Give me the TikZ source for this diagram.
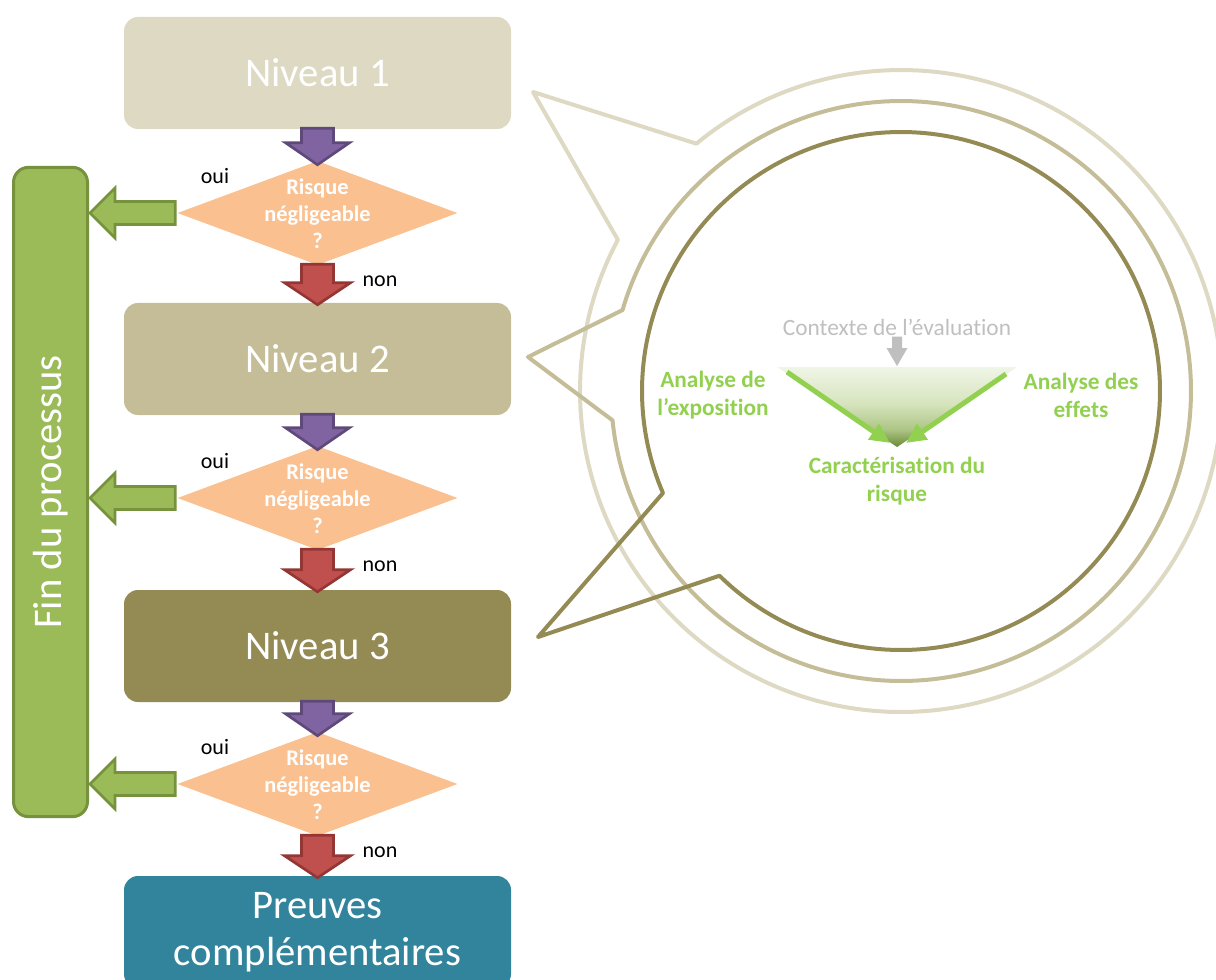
\documentclass[tikz,border=0pt]{standalone}
\usepackage{fontspec}
\setmainfont{Carlito}[Ligatures={NoCommon}]
\usetikzlibrary{shapes.geometric,arrows.meta,calc}

\definecolor{lvlone}{HTML}{DDD9C3}
\definecolor{lvltwo}{HTML}{C4BD97}
\definecolor{lvlthree}{HTML}{948A54}
\definecolor{proof}{HTML}{31849B}
\definecolor{peach}{HTML}{FAC090}
\definecolor{purplefill}{HTML}{8064A2}
\definecolor{purpleline}{HTML}{5F497A}
\definecolor{redfill}{HTML}{C0504D}
\definecolor{redline}{HTML}{943634}
\definecolor{leaf}{HTML}{9BBB59}
\definecolor{leafline}{HTML}{76923C}
\definecolor{lime}{HTML}{92D050}
\definecolor{greytext}{HTML}{BFBFBF}
\definecolor{tritop}{HTML}{F0F5E7}
\definecolor{trimid}{HTML}{D6E4BD}
\definecolor{trilow}{HTML}{ADC585}
\definecolor{tribot}{HTML}{6A8A36}

% funnel gradient: dark at the tip, fading to almost white at the rim
\pgfdeclareverticalshading{funnel}{100bp}{color(0bp)=(tribot); color(25bp)=(tribot);
  color(36bp)=(trilow); color(52bp)=(trimid); color(75bp)=(tritop); color(100bp)=(tritop)}

% downward block arrow: style, from, to, shaft half-width, head half-width, head length
\newcommand\blockdown[6]{%
  \draw[#1] ($(#2)+(-#4,0)$) -- ($(#2)+(#4,0)$) -- ($(#3)+(#4,-#6)$) -- ($(#3)+(#5,-#6)$)
    -- (#3) -- ($(#3)+(-#5,-#6)$) -- ($(#3)+(-#4,-#6)$) -- cycle;}
% leftward block arrow: style, tail, tip, shaft half-height, head half-height, head length
\newcommand\blockleft[6]{%
  \draw[#1] ($(#2)+(0,-#4)$) -- ($(#3)+(#6,-#4)$) -- ($(#3)+(#6,-#5)$) -- (#3)
    -- ($(#3)+(#6,#5)$) -- ($(#3)+(#6,#4)$) -- ($(#2)+(0,#4)$) -- cycle;}

\begin{document}
\begin{tikzpicture}[x=0.75pt,y=-0.75pt,
  box/.style={rounded corners=10.5pt, minimum width=290.25pt, minimum height=84pt,
    inner sep=0pt, text=white, align=center, font=\fontsize{30.5}{35}\selectfont},
  decision/.style={diamond, fill=peach, minimum width=210pt, minimum height=78pt, inner sep=0pt},
  risk/.style={text=white, align=center, inner sep=0pt, font=\bfseries\fontsize{16.8}{20.25}\selectfont},
  answer/.style={inner sep=0pt, font=\fontsize{16.5}{19}\selectfont},
  purplearrow/.style={fill=purplefill, draw=purpleline, line width=2pt},
  redarrow/.style={fill=redfill, draw=redline, line width=2pt},
  greenarrow/.style={fill=leaf, draw=leafline, line width=2pt},
  greyarrow/.style={fill=greytext, draw=none},
  bubble/.style={line width=3pt, line join=round},
  limearrow/.style={draw=lime, line width=3.75pt, -{Triangle[length=15pt,width=13.5pt]}},
  greenlabel/.style={text=lime, align=center, inner sep=0pt, font=\bfseries\fontsize{17.5}{21}\selectfont}]

\useasboundingbox (0,0) rectangle (1216,980);
\clip (0,0) rectangle (1216,980);

% ---------- speech bubble: three rings with pointers ----------
\coordinate (apexA) at (533,92);
\coordinate (apexB) at (528,357);
\coordinate (apexC) at (538,637);
\draw[bubble, draw=lvlone] (apexA) -- plot[domain=-129.6:208.1, samples=240]
  ({901+321*cos(\x)},{391+321*sin(\x)}) -- cycle;
\draw[bubble, draw=lvltwo] (apexB) -- plot[domain=-163.8:174.2, samples=240]
  ({901+290*cos(\x)},{391+290*sin(\x)}) -- cycle;
\draw[bubble, draw=lvlthree] (apexC) -- plot[domain=156.8:494.5, samples=240]
  ({901+259*cos(\x)},{391+259*sin(\x)}) -- cycle;

% ---------- risk assessment triangle ----------
\coordinate (tl) at (777,367);
\coordinate (tr) at (1017,367);
\coordinate (tb) at (897,447);
\coordinate (tmid) at (897,366);
\shade[shading=funnel] (tl) -- (tr) -- (tb) -- cycle;

\node[inner sep=0pt, text=greytext, font=\fontsize{17.5}{21}\selectfont] (ctx) at (897,327) {Contexte de l’évaluation};
\coordinate (ctxb) at ($(ctx.south)+(0,1)$);
\blockdown{greyarrow}{ctxb}{tmid}{5}{10.5}{18}

\coordinate (la) at (787,372);
\coordinate (lb) at (890,443);
\coordinate (ra) at (1006,374);
\coordinate (rb) at (906,443);
\draw[limearrow] (la) -- (lb);
\draw[limearrow] (ra) -- (rb);

\node[greenlabel] (expo) at (713,395) {Analyse de\\l’exposition};
\node[greenlabel] (effe) at (1081,395) {Analyse des\\effets};
\node[greenlabel] (cara) at (897,481) {Caractérisation du\\risque};

% ---------- levels ----------
\node[box, fill=lvlone] (n1) at (317.5,73) {Niveau 1};
\node[box, fill=lvltwo] (n2) at (317.5,359) {Niveau 2};
\node[box, fill=lvlthree] (n3) at (317.5,646) {Niveau 3};
\node[box, fill=proof] (n4) at (317.5,932) {Preuves\\complémentaires};

% ---------- end-of-process bar ----------
\node[rounded corners=11.25pt, fill=leaf, draw=leafline, line width=2.25pt,
  minimum width=55.5pt, minimum height=487pt, inner sep=0pt] (bar) at (50.5,492) {};
\node[rotate=90, text=white, inner sep=0pt, font=\fontsize{30.5}{35}\selectfont] (barlabel) at (bar) {Fin du processus};

% ---------- decisions ----------
\foreach \i/\j/\y in {1/2/213, 2/3/498, 3/4/784} {
  \node[decision] (d\i) at (317.5,\y) {};
  \node[risk] (q\i) at ($(d\i)+(0,1)$) {Risque\\négligeable\\?};
  \node[answer] (yes\i) at (215,\y-37) {oui};
  \node[answer] (no\i) at (380,\y+68) {non};
  \coordinate (pa\i) at ($(n\i.south)+(0,-1)$);
  \coordinate (pb\i) at ($(d\i.north)+(0,4)$);
  \coordinate (ra\i) at ($(d\i.south)+(0,-1)$);
  \coordinate (rb\i) at ($(n\j.north)+(0,2)$);
  \coordinate (ga\i) at ($(d\i.west)+(-2,0)$);
  \coordinate (gb\i) at ($(d\i.west -| bar.east)+(1,0)$);
  \blockdown{purplearrow}{pa\i}{pb\i}{16}{32}{22}
  \blockdown{redarrow}{ra\i}{rb\i}{16}{33}{22}
  \blockleft{greenarrow}{ga\i}{gb\i}{11.5}{25}{25}
}
\end{tikzpicture}
\end{document}
